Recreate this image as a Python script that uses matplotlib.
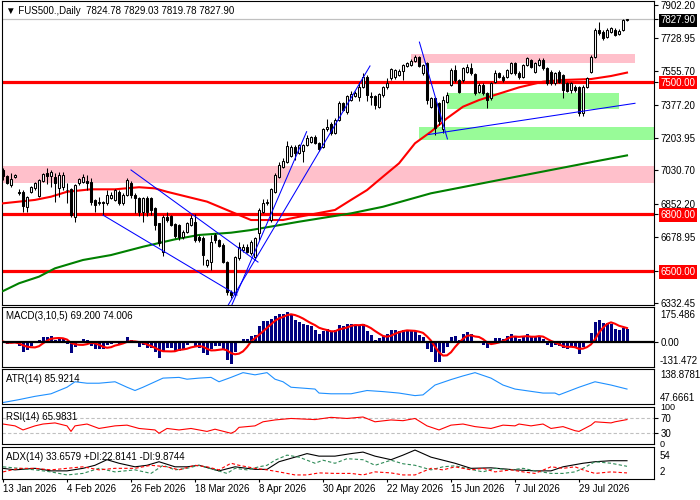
import numpy as np
import pandas as pd
import matplotlib
matplotlib.use('Agg')
import matplotlib.pyplot as plt

plt.rcParams['font.family'] = ['Liberation Sans', 'DejaVu Sans']
plt.rcParams['font.size'] = 7

# daily candles, 13 Jan 2026 .. 14 Aug 2026
opens = [
    7033, 7001, 6955, 6994, 6915, 6919, 6839, 6919, 6936, 6896,
    6977, 7018, 7001, 6994, 6936, 6941, 6930, 6931, 6787, 6963,
    6971, 6977, 6971, 6875, 6857, 6866, 6857, 6883, 6875, 6918,
    6857, 6901, 6963, 6901, 6883, 6813, 6887, 6883, 6831, 6751,
    6600, 6783, 6790, 6748, 6743, 6678, 6708, 6743, 6760, 6677,
    6672, 6532, 6549, 6690, 6663, 6637, 6549, 6391, 6376, 6567,
    6611, 6625, 6593, 6576, 6699, 6813, 6861, 6769, 6919, 6998,
    7051, 7077, 7107, 7153, 7124, 7135, 7165, 7182, 7209, 7174,
    7156, 7248, 7276, 7230, 7297, 7385, 7337, 7402, 7424, 7420,
    7473, 7526, 7422, 7424, 7367, 7429, 7469, 7517, 7522, 7534,
    7557, 7582, 7587, 7610, 7627, 7543, 7596, 7367, 7411, 7385,
    7250, 7390, 7482, 7561, 7508, 7508, 7552, 7569, 7540, 7446,
    7482, 7438, 7411, 7499, 7543, 7526, 7526, 7547, 7596, 7547,
    7526, 7587, 7613, 7552, 7587, 7613, 7569, 7552, 7490, 7552,
    7534, 7490, 7455, 7473, 7469, 7332, 7473, 7552, 7631, 7772,
    7763, 7737, 7763, 7772, 7751, 7772, 7824.78]
highs = [
    7042, 7005, 7015, 7010, 6931, 6925, 6897, 6950, 6970, 6985,
    7019, 7042, 7033, 7015, 7024, 7024, 6962, 6940, 6960, 6990,
    7012, 7007, 6989, 6880, 6892, 6870, 6927, 6915, 6935, 6925,
    6910, 6990, 6975, 6910, 6892, 6890, 6895, 6890, 6840, 6755,
    6795, 6813, 6795, 6755, 6750, 6715, 6760, 6795, 6800, 6690,
    6685, 6565, 6690, 6699, 6670, 6645, 6555, 6400, 6580, 6655,
    6640, 6640, 6665, 6680, 6830, 6878, 6878, 6940, 7015, 7077,
    7095, 7188, 7165, 7165, 7172, 7172, 7218, 7215, 7218, 7180,
    7255, 7300, 7285, 7305, 7399, 7392, 7430, 7452, 7450, 7499,
    7543, 7535, 7446, 7430, 7440, 7475, 7517, 7570, 7568, 7565,
    7595, 7602, 7620, 7640, 7635, 7595, 7605, 7420, 7420, 7392,
    7425, 7445, 7570, 7587, 7515, 7578, 7590, 7596, 7545, 7490,
    7490, 7445, 7498, 7561, 7552, 7535, 7568, 7605, 7603, 7555,
    7595, 7630, 7620, 7605, 7622, 7625, 7575, 7560, 7550, 7560,
    7540, 7498, 7498, 7480, 7475, 7480, 7525, 7640, 7780, 7816,
    7770, 7780, 7790, 7780, 7775, 7832, 7829.03]
lows = [
    6980, 6958, 6945, 6990, 6901, 6813, 6813, 6912, 6930, 6890,
    6970, 6960, 6945, 6866, 6892, 6925, 6857, 6787, 6760, 6955,
    6965, 6927, 6848, 6813, 6850, 6795, 6850, 6878, 6868, 6850,
    6850, 6895, 6883, 6804, 6790, 6760, 6790, 6795, 6716, 6630,
    6580, 6760, 6735, 6672, 6665, 6670, 6700, 6735, 6655, 6655,
    6531, 6520, 6505, 6646, 6625, 6540, 6375, 6355, 6368, 6560,
    6600, 6595, 6585, 6560, 6664, 6805, 6848, 6760, 6910, 6990,
    7045, 7070, 7100, 7086, 7115, 7077, 7158, 7175, 7168, 7135,
    7150, 7240, 7218, 7222, 7290, 7342, 7330, 7395, 7418, 7399,
    7465, 7399, 7376, 7353, 7358, 7420, 7462, 7510, 7515, 7528,
    7508, 7575, 7580, 7602, 7575, 7535, 7380, 7360, 7218, 7268,
    7226, 7385, 7475, 7500, 7440, 7500, 7545, 7535, 7430, 7438,
    7430, 7358, 7402, 7492, 7518, 7500, 7518, 7540, 7535, 7515,
    7518, 7580, 7570, 7545, 7580, 7560, 7482, 7482, 7482, 7490,
    7411, 7445, 7438, 7445, 7320, 7320, 7465, 7545, 7625, 7745,
    7720, 7730, 7755, 7738, 7745, 7765, 7819.78]
closes = [
    7001, 6963, 6984, 7006, 6913, 6843, 6892, 6942, 6963, 6980,
    7012, 7001, 7024, 6963, 7007, 7007, 6928, 6795, 6954, 6984,
    6998, 6963, 6866, 6848, 6866, 6857, 6901, 6901, 6927, 6857,
    6901, 6980, 6901, 6885, 6813, 6883, 6813, 6822, 6743, 6645,
    6783, 6769, 6743, 6685, 6678, 6708, 6752, 6778, 6665, 6663,
    6584, 6558, 6655, 6663, 6632, 6549, 6391, 6373, 6575, 6628,
    6628, 6602, 6655, 6672, 6822, 6861, 6864, 6933, 7007, 7059,
    7082, 7160, 7156, 7121, 7165, 7165, 7200, 7209, 7174, 7142,
    7248, 7262, 7226, 7297, 7388, 7350, 7424, 7434, 7441, 7473,
    7522, 7429, 7420, 7376, 7434, 7469, 7494, 7564, 7561, 7557,
    7587, 7596, 7610, 7631, 7582, 7587, 7402, 7411, 7253, 7290,
    7405, 7430, 7561, 7508, 7446, 7569, 7578, 7543, 7438, 7482,
    7438, 7402, 7490, 7543, 7526, 7508, 7561, 7596, 7543, 7522,
    7587, 7622, 7578, 7596, 7613, 7569, 7490, 7490, 7543, 7499,
    7455, 7452, 7490, 7455, 7332, 7473, 7517, 7631, 7772, 7754,
    7728, 7772, 7781, 7745, 7768, 7825, 7827.90]

date_pos = [0, 16, 32, 48, 64, 80, 96, 112, 128, 144]
date_labels = ['13 Jan 2026', '4 Feb 2026', '26 Feb 2026', '18 Mar 2026', '8 Apr 2026',
               '30 Apr 2026', '22 May 2026', '15 Jun 2026', '7 Jul 2026', '29 Jul 2026']

price_ticks = [7902.20, 7827.90, 7728.95, 7555.70, 7500.00, 7377.20, 7203.95,
               7030.70, 6852.20, 6800.00, 6678.95, 6500.00, 6332.45]
levels = [7500.0, 6800.0, 6500.0]
last_price = 7827.90

# moving averages (bar index, price)
red_ma_x = [0, 8, 12, 16, 22, 28, 34, 38, 41, 46, 51, 57, 62, 70, 74, 83, 87, 91, 95, 99,
            103, 107, 111, 115, 119, 123, 129, 135, 140, 147, 152, 156]
red_ma_y = [6857, 6875, 6892, 6918, 6931, 6931, 6942, 6936, 6918, 6892, 6866, 6813, 6769, 6769,
            6786, 6822, 6875, 6927, 6998, 7068, 7174, 7235, 7306, 7367, 7402, 7429, 7469, 7499,
            7508, 7513, 7529, 7547]
green_ma_x = [0, 4, 9, 13, 20, 27, 35, 43, 49, 57, 62, 74, 87, 95, 107, 124, 137, 149, 156]
green_ma_y = [6394, 6435, 6470, 6514, 6558, 6584, 6628, 6667, 6690, 6702, 6716, 6760, 6804,
              6839, 6910, 6980, 7033, 7082, 7110]

# zones: (bar from, bar to, price low, price high)
pink_zones = [(-2, 165, 6966, 7055), (102, 158, 7597, 7645)]
green_zones = [(111, 154, 7355, 7441), (104, 165, 7191, 7261)]
# trend lines: (bar0, price0, bar1, price1)
trend_lines = [(32, 7033, 63.75, 6547), (25, 6795, 58.5, 6373),
               (57.2, 6320, 75.9, 7235), (56.3, 6320, 91.75, 7582),
               (104.1, 7708, 111.1, 7197), (106.3, 7220, 158, 7385)]

# indicator lines
atr_x = [0, 4, 8, 12, 16, 18, 21, 24, 28, 31, 33, 35, 40, 44, 46, 49, 52, 54, 57, 60, 63, 66,
         68, 70, 72, 78, 79, 82, 87, 91, 95, 99, 103, 105, 108, 112, 115, 118, 122, 125, 128,
         135, 138, 139, 144, 148, 152, 156]
atr_y = [49, 57, 66, 73, 91, 106, 102, 102, 106, 91, 82, 91, 116, 118, 113, 116, 118, 106, 118,
         131, 125, 131, 113, 106, 91, 86, 75, 73, 73, 82, 79, 75, 68, 70, 97, 112, 122, 131, 116,
         97, 86, 75, 75, 70, 91, 106, 97, 86]
rsi_x = [0, 3, 5, 8, 10, 13, 16, 17, 18, 21, 24, 28, 31, 34, 38, 39, 41, 44, 47, 51, 53, 57, 58,
         59, 63, 65, 68, 72, 78, 82, 86, 90, 93, 97, 100, 103, 106, 109, 112, 115, 118, 122, 125,
         128, 129, 132, 135, 137, 140, 143, 144, 147, 148, 152, 153, 156]
rsi_y = [54, 49, 38, 49, 54, 57, 49, 34, 49, 54, 42, 49, 51, 42, 38, 29, 42, 38, 42, 34, 40, 29,
         34, 45, 49, 60, 65, 69, 66, 72, 69, 73, 60, 65, 63, 69, 49, 38, 51, 54, 47, 42, 51, 49,
         54, 49, 54, 42, 47, 36, 34, 51, 60, 57, 60, 66]
adx_x = [0, 3, 8, 12, 16, 20, 23, 26, 29, 33, 36, 39, 43, 46, 49, 54, 58, 63, 66, 69, 73, 76, 79,
         83, 87, 90, 93, 97, 100, 103, 107, 110, 113, 117, 122, 128, 133, 137, 140, 145, 148,
         152, 156]
adx_y = [19, 16, 19, 14, 14, 19, 25, 36, 29, 22, 25, 32, 22, 22, 25, 14, 22, 17, 17, 32, 41, 48,
         43, 43, 48, 51, 43, 36, 45, 55, 41, 35, 29, 19, 20, 16, 14, 14, 22, 29, 32, 34, 34]
pdi_x = [0, 4, 8, 12, 16, 20, 24, 28, 33, 37, 40, 43, 46, 49, 53, 56, 58, 61, 64, 66, 68, 71, 74,
         78, 80, 83, 86, 90, 93, 97, 100, 103, 107, 110, 113, 117, 120, 123, 127, 130, 133, 137,
         140, 143, 145, 148, 152, 156]
pdi_y = [22, 19, 16, 12, 6, 9, 19, 12, 16, 9, 25, 16, 19, 25, 16, 9, 19, 16, 22, 25, 35, 45, 41,
         29, 35, 29, 38, 36, 25, 35, 28, 25, 16, 22, 24, 17, 12, 19, 16, 19, 14, 9, 9, 12, 19, 32,
         29, 23]
mdi_x = [0, 4, 8, 12, 16, 20, 24, 28, 33, 37, 41, 44, 48, 51, 54, 57, 59, 63, 66, 69, 73, 76, 79,
         83, 87, 90, 93, 97, 100, 103, 107, 110, 113, 117, 120, 123, 127, 130, 133, 137, 140, 143,
         145, 148, 152, 156]
mdi_y = [12, 19, 19, 16, 19, 22, 16, 19, 19, 25, 22, 16, 25, 22, 16, 29, 25, 19, 16, 12, 6, 6, 10,
         9, 9, 6, 12, 10, 6, 6, 19, 16, 22, 16, 19, 12, 16, 12, 9, 22, 19, 22, 16, 9, 12, 10]

# ---- layout (pixel based, like the terminal window) ----
W, H = 700, 500
fig = plt.figure(figsize=(W / 100, H / 100), dpi=100)
fig.patch.set_facecolor('white')


def panel(top, bottom):
    a = fig.add_axes([2 / W, 1 - bottom / H, 652 / W, (bottom - top) / H])
    for s in a.spines.values():
        s.set_linewidth(0.8)
        s.set_color('black')
    a.set_xlim(-0.25, 162.75)
    a.set_xticks([])
    return a


def ftext(xp, yp, s, **kw):
    fig.text(xp / W, 1 - yp / H, s, ha='left', va='center', **kw)


def rlabel(a, frac, s, **kw):
    a.text(1 + 6 / 652, frac, s, transform=a.transAxes, ha='left', va='center', **kw)


ax = panel(1, 305)
ax_macd = panel(307, 367)
ax_atr = panel(369, 404)
ax_rsi = panel(407, 444)
ax_adx = panel(447, 479)

o = np.array(opens)
h = np.array(highs)
l = np.array(lows)
c = np.array(closes)
x = np.arange(len(c))

# main chart
ax.set_ylim(6320.4, 7924.9)
for x0, x1, lo, hi in pink_zones:
    ax.fill_between([x0, x1], lo, hi, color='#FFC0CB', lw=0, zorder=1)
for x0, x1, lo, hi in green_zones:
    ax.fill_between([x0, x1], lo, hi, color='#98FB98', lw=0, zorder=1)
ax.axhline(last_price, color='#C0C0C0', lw=0.9, zorder=1)
for lv in levels:
    ax.axhline(lv, color='red', lw=2.3, zorder=2)
ax.plot(red_ma_x, red_ma_y, color='red', lw=1.5, zorder=3)
ax.plot(green_ma_x, green_ma_y, color='green', lw=1.5, zorder=3)

ax.vlines(x, l, h, color='black', lw=0.75, zorder=4)
body = np.maximum(np.abs(c - o), 1.5)
ax.bar(x, body, bottom=np.minimum(o, c), width=0.65,
       color=np.where(c >= o, 'white', 'black'), edgecolor='black', lw=0.75, zorder=5)

for x0, y0, x1, y1 in trend_lines:
    ax.plot([x0, x1], [y0, y1], color='blue', lw=0.75, zorder=6)

ax.yaxis.tick_right()
ax.set_yticks(price_ticks, ['%.2f' % v for v in price_ticks])
ax.tick_params(axis='y', length=3, width=0.8, pad=1.5, labelsize=7)
for lbl, v in zip(ax.get_yticklabels(), price_ticks):
    if v == last_price:
        lbl.set_color('white')
        lbl.set_bbox(dict(facecolor='black', edgecolor='none', pad=1.2))
    elif v in levels:
        lbl.set_color('white')
        lbl.set_bbox(dict(facecolor='red', edgecolor='none', pad=1.2))

# MACD(3,10,5), main as histogram, SMA signal
s_close = pd.Series(closes)
macd_main = s_close.ewm(span=3, adjust=False).mean() - s_close.ewm(span=10, adjust=False).mean()
macd_signal = macd_main.rolling(5, min_periods=1).mean()
ax_macd.set_ylim(-140, 190)
ax_macd.bar(x, macd_main, width=0.75, color='#000080', zorder=2)
ax_macd.plot(x, macd_signal, color='red', lw=1.5, zorder=3)
ax_macd.axhline(0, color='black', lw=1.6, zorder=4)
ax_macd.yaxis.tick_right()
ax_macd.set_yticks([0], ['0.00'])
ax_macd.tick_params(axis='y', length=3, width=0.8, pad=1.5, labelsize=7)
rlabel(ax_macd, 0.866, '175.486')
rlabel(ax_macd, 0.10, '-131.472')

# ATR
ax_atr.set_ylim(45, 141)
ax_atr.plot(atr_x, atr_y, color='#1E90FF', lw=0.8)
ax_atr.set_yticks([])
rlabel(ax_atr, 0.83, '138.8781')
rlabel(ax_atr, 0.17, '47.6661')

# RSI
ax_rsi.set_ylim(0, 100)
for lv in (70, 30):
    ax_rsi.axhline(lv, color='#C0C0C0', lw=0.8, ls=(0, (3, 2)))
ax_rsi.plot(rsi_x, rsi_y, color='red', lw=0.8)
ax_rsi.yaxis.tick_right()
ax_rsi.set_yticks([70, 30], ['70', '30'])
ax_rsi.tick_params(axis='y', length=3, width=0.8, pad=1.5, labelsize=7)
rlabel(ax_rsi, 1.0, '100', fontsize=6.5)
rlabel(ax_rsi, -0.02, '0', fontsize=6.5)

# ADX
ax_adx.set_ylim(-2, 61)
ax_adx.plot(adx_x, adx_y, color='black', lw=0.8)
ax_adx.plot(pdi_x, pdi_y, color='#2E8B57', lw=0.8, ls=(0, (3, 2)))
ax_adx.plot(mdi_x, mdi_y, color='red', lw=0.8, ls=(0, (3, 2)))
ax_adx.set_yticks([])
rlabel(ax_adx, 0.72, '54')
rlabel(ax_adx, 0.207, '2')
ax_adx.set_xticks(date_pos, date_labels)
ax_adx.tick_params(axis='x', length=2, width=0.8, pad=1.5, labelsize=7)
for lbl in ax_adx.get_xticklabels():
    lbl.set_ha('left')

# titles
ftext(6, 10.5, '\u25bc FUS500.,Daily  7824.78 7829.03 7819.78 7827.90')
ftext(6, 316, 'MACD(3,10,5) 69.200 74.006')
ftext(6, 379, 'ATR(14) 85.9214')
ftext(6, 416.5, 'RSI(14) 65.9831')
ftext(6, 456.5, 'ADX(14) 33.6579 +DI:22.8141 -DI:9.8744')

fig.savefig('out.png', dpi=100)
